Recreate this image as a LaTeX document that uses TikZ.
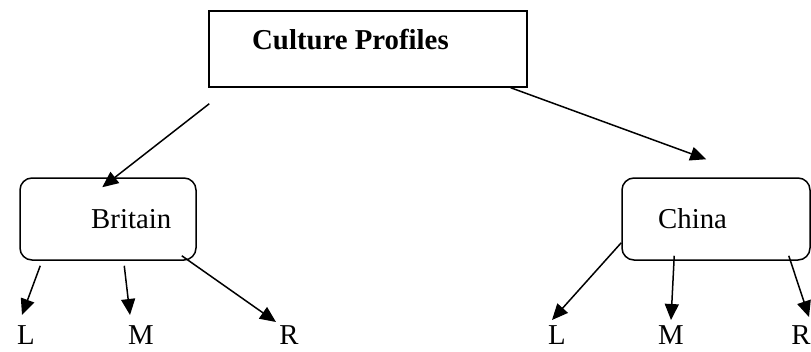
\documentclass[tikz,border=0pt]{standalone}
\usepackage{fontspec}
\setmainfont{Liberation Serif}
\usetikzlibrary{arrows.meta,calc}

\begin{document}
\begin{tikzpicture}[
    x=1pt, y=-1pt,
    every node/.style={font=\fontsize{28.8}{34}\selectfont, inner sep=0pt},
    box/.style={rectangle, draw, line width=1.5pt},
    rbox/.style={box, rounded corners=12pt},
    leaf/.style={anchor=base},
    arrow/.style={-{Triangle[length=16pt,width=14pt]}, line width=1.5pt}
]
    \useasboundingbox (0,0) rectangle (811,351);

    \node[box, minimum width=318pt, minimum height=76pt] (top) at (368,49) {};
    \node[anchor=base west] (toptext) at (252,49) {\bfseries Culture Profiles};

    \node[rbox, minimum width=176pt, minimum height=82pt] (britain) at (108,219) {};
    \node[anchor=base west] (britaintext) at (91,228) {Britain};
    \node[rbox, minimum width=188pt, minimum height=82pt] (china) at (716,219) {};
    \node[anchor=base west] (chinatext) at (658,228) {China};

    \node[leaf] (bL) at (26,344) {L};
    \node[leaf] (bM) at (141,344) {M};
    \node[leaf] (bR) at (289,344) {R};
    \node[leaf] (cL) at (557,344) {L};
    \node[leaf] (cM) at (671,344) {M};
    \node[leaf] (cR) at (801,344) {R};

    \draw[arrow] ($(top.south west)+(1,16)$) -- ($(britain.north west)+(83,10)$);
    \draw[arrow] ($(top.south east)+(-17,0)$) -- ($(china.north west)+(85,-18)$);

    \draw[arrow] ($(britain.south west)+(21,5)$) -- ($(bL.base)+(-4,-29)$);
    \draw[arrow] ($(britain.south west)+(105,5)$) -- ($(bM.base)+(-11,-29)$);
    \draw[arrow] ($(britain.south east)+(-15,-5)$) -- ($(bR.base)+(-13,-22)$);

    \draw[arrow] ($(china.south west)+(0,-18)$) -- ($(cL.base)+(-5,-24)$);
    \draw[arrow] ($(china.south west)+(53,-5)$) -- ($(cM.base)+(0,-24)$);
    \draw[arrow] ($(china.south east)+(-22,-5)$) -- ($(cR.base)+(8,-27)$);
\end{tikzpicture}
\end{document}
